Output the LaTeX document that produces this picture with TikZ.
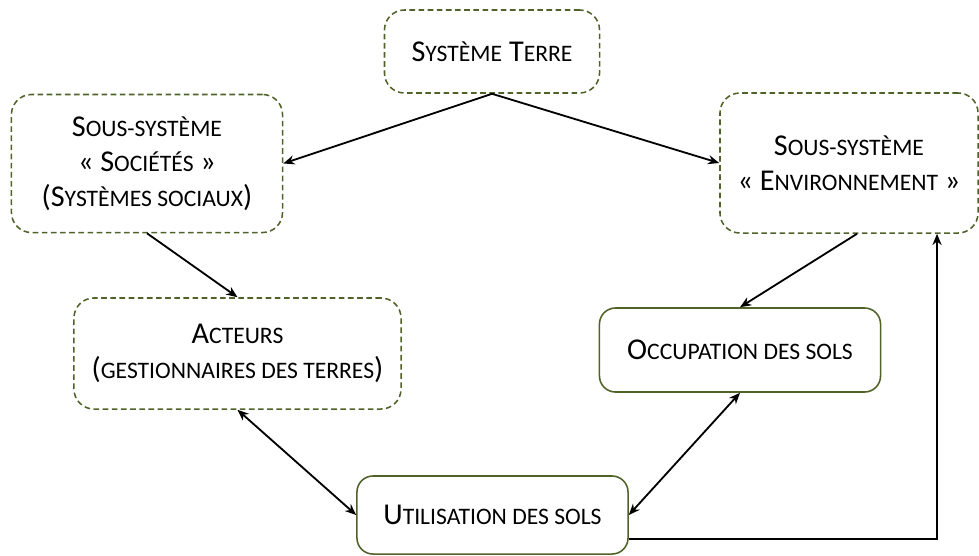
\documentclass[tikz,border=0pt]{standalone}
\usepackage{fontspec}
\setmainfont{Carlito}
\usetikzlibrary{arrows.meta}
\definecolor{boxgreen}{RGB}{79,98,40}
% small capitals drawn by hand (Carlito has none)
\newcommand{\smc}[1]{{\fontsize{16.8}{25}\selectfont #1}}
\tikzset{
  dashbox/.style={draw=boxgreen, dash pattern=on 4pt off 2.5pt, rounded corners=0.5cm,
    line width=1.1pt, align=center, inner sep=0pt,
    font=\fontsize{21.5}{25}\selectfont},
  solidbox/.style={dashbox, solid, rounded corners=0.4cm},
  link/.style={-{Stealth[length=8pt,width=6.5pt]}, line width=1.3pt},
  twolink/.style={{Stealth[length=8pt,width=6.5pt]}-{Stealth[length=8pt,width=6.5pt]}, line width=1.3pt}
}
\begin{document}
\begin{tikzpicture}[x=0.025cm, y=-0.025cm]
\useasboundingbox (0,0) rectangle (979,555);
% Define the upper boxes
\node[dashbox, minimum width=5.375cm, minimum height=2.075cm] (terre) at (492,51.5)
    {S\smc{YSTÈME} T\smc{ERRE}};
\node[dashbox, minimum width=6.775cm, minimum height=3.45cm] (soc) at (147,163.5)
    {S\smc{OUS-SYSTÈME}\\«~S\smc{OCIÉTÉS}~»\\(S\smc{YSTÈMES SOCIAUX})};
\node[dashbox, minimum width=6.45cm, minimum height=3.5cm] (env) at (849,163)
    {S\smc{OUS-SYSTÈME}\\«~E\smc{NVIRONNEMENT}~»};
% Define the lower boxes
\node[dashbox, minimum width=8.175cm, minimum height=2.775cm] (acteurs) at (237.5,353.5)
    {A\smc{CTEURS}\\(\smc{GESTIONNAIRES DES TERRES})};
\node[solidbox, minimum width=7.025cm, minimum height=2.1cm] (occup) at (740,350)
    {O\smc{CCUPATION DES SOLS}};
\node[solidbox, minimum width=6.775cm, minimum height=1.95cm] (util) at (492.5,515)
    {U\smc{TILISATION DES SOLS}};
% Add arrows between the boxes
\draw[link] (terre.south) -- (soc.east);
\draw[link] (terre.south) -- (env.west);
\draw[link] (soc.south) -- (acteurs.north);
\draw[link] ([xshift=0.2cm]env.south) -- (occup.north);
\draw[twolink] (acteurs.south) -- (util.west);
\draw[twolink] (occup.south) -- (util.east);
\draw[link] ([yshift=-0.6cm]util.east) -| ([xshift=2.2cm]env.south);
\end{tikzpicture}
\end{document}
